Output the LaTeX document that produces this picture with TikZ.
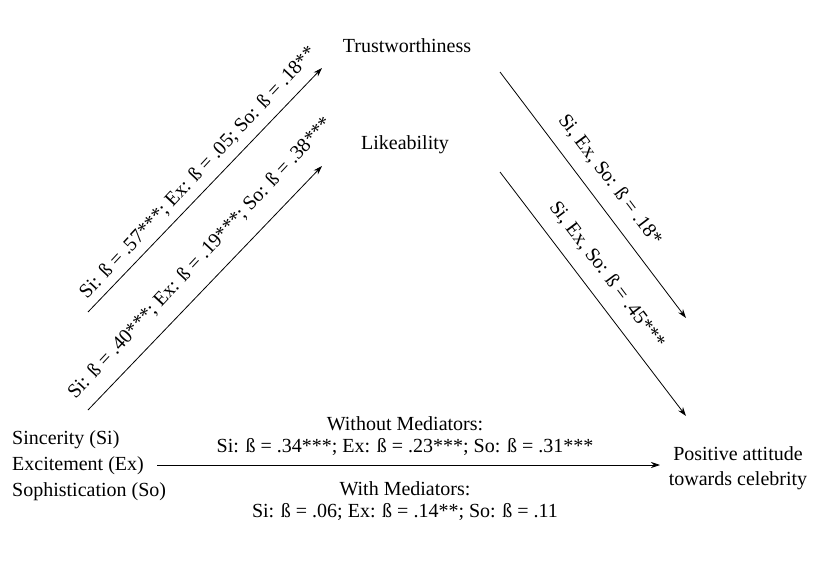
\documentclass[tikz,border=0pt]{standalone}
\usepackage{fontspec}
\setmainfont{Liberation Serif}
\usetikzlibrary{arrows.meta}
\begin{document}
\begin{tikzpicture}[x=1pt,y=-1pt,
  txt/.style={font=\fontsize{20}{23}\selectfont,inner sep=0pt},
  arr/.style={-{Stealth[length=9pt,width=6pt]},line width=0.8pt}]
\useasboundingbox[fill=white] (0,0) rectangle (820,575);
\node[txt] (tr) at (407,46) {Trustworthiness};
\node[txt] (li) at (405,145) {Likeability};
\node[txt,align=left,anchor=west] (src) at (12,466) {Sincerity (Si)\\[3pt]Excitement (Ex)\\[3pt]Sophistication (So)};
\node[txt,align=center] (pos) at (738,468) {Positive attitude\\[2pt]towards celebrity};
\node[txt] (wo) at (405,424) {Without Mediators:};
\node[txt] (wob) at (405,447) {Si: ß = .34***; Ex: ß = .23***; So: ß = .31***};
\node[txt] (wi) at (405,489) {With Mediators:};
\node[txt] (wib) at (405,512) {Si: ß = .06; Ex: ß = .14**; So: ß = .11};
\coordinate (a1) at (88,312); \coordinate (b1) at (322,68);
\coordinate (a2) at (88,410); \coordinate (b2) at (322,166);
\coordinate (c1) at (500,72); \coordinate (d1) at (686,318);
\coordinate (c2) at (500,172); \coordinate (d2) at (686,416);
\coordinate (h1) at (157,465); \coordinate (h2) at (660,465);
\draw[arr] (a1) -- (b1);
\draw[arr] (a2) -- (b2);
\draw[arr] (c1) -- (d1);
\draw[arr] (c2) -- (d2);
\draw[arr] (h1) -- (h2);
\node[txt,rotate=47] (l1) at (198,173) {Si: ß = .57***; Ex: ß = .05; So: ß = .18**};
\node[txt,rotate=47] (l2) at (200,258) {Si: ß = .40***; Ex: ß = .19***; So: ß = .38***};
\node[txt,rotate=-53] (r1) at (610,180) {Si, Ex, So: ß = .18*};
\node[txt,rotate=-53] (r2) at (607,275) {Si, Ex, So: ß = .45***};
\end{tikzpicture}
\end{document}
